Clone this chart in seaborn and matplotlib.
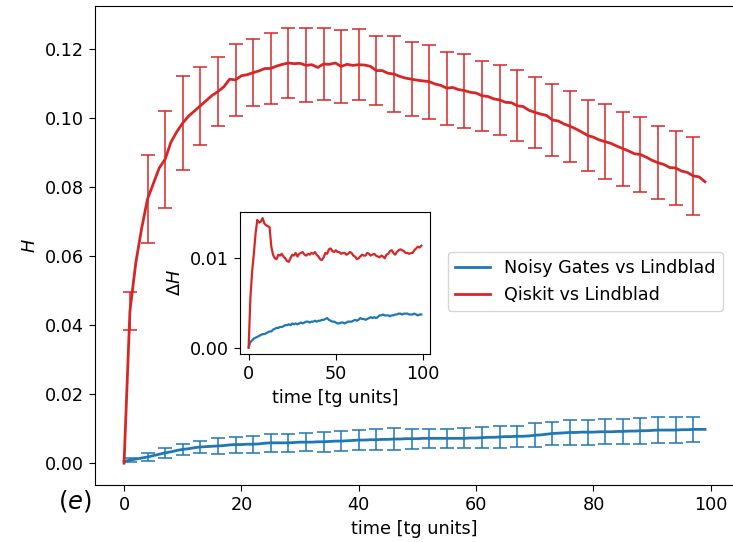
import numpy as np
import pandas as pd
import matplotlib
matplotlib.use("Agg")
import matplotlib.pyplot as plt
import seaborn as sns

# time axis [tg units]
time = np.arange(100)

# mean H for each comparison
h_noisy = [
    0.0005, 0.0009, 0.0012, 0.0015, 0.0018, 0.0022, 0.0026, 0.0030, 0.0033, 0.0037,
    0.0040, 0.0042, 0.0045, 0.0047, 0.0048, 0.0049, 0.0050, 0.0051, 0.0053, 0.0054,
    0.0054, 0.0055, 0.0055, 0.0056, 0.0058, 0.0059, 0.0059, 0.0059, 0.0059, 0.0060,
    0.0061, 0.0061, 0.0061, 0.0062, 0.0062, 0.0063, 0.0064, 0.0064, 0.0065, 0.0066,
    0.0067, 0.0067, 0.0068, 0.0068, 0.0069, 0.0069, 0.0070, 0.0070, 0.0071, 0.0071,
    0.0071, 0.0072, 0.0072, 0.0072, 0.0072, 0.0072, 0.0072, 0.0072, 0.0072, 0.0073,
    0.0073, 0.0074, 0.0075, 0.0075, 0.0076, 0.0077, 0.0077, 0.0078, 0.0078, 0.0079,
    0.0081, 0.0082, 0.0084, 0.0086, 0.0087, 0.0088, 0.0089, 0.0089, 0.0090, 0.0090,
    0.0090, 0.0091, 0.0091, 0.0091, 0.0092, 0.0092, 0.0093, 0.0093, 0.0094, 0.0094,
    0.0095, 0.0096, 0.0096, 0.0096, 0.0096, 0.0097, 0.0097, 0.0098, 0.0098, 0.0098,
]
h_qiskit = [
    0.0000, 0.0440, 0.0580, 0.0680, 0.0765, 0.0810, 0.0855, 0.0880, 0.0930, 0.0960,
    0.0985, 0.1005, 0.1020, 0.1035, 0.1050, 0.1065, 0.1076, 0.1090, 0.1112, 0.1110,
    0.1122, 0.1125, 0.1131, 0.1136, 0.1143, 0.1143, 0.1150, 0.1155, 0.1159, 0.1157,
    0.1158, 0.1152, 0.1154, 0.1146, 0.1156, 0.1155, 0.1159, 0.1149, 0.1155, 0.1152,
    0.1154, 0.1153, 0.1149, 0.1137, 0.1137, 0.1129, 0.1127, 0.1120, 0.1115, 0.1112,
    0.1109, 0.1107, 0.1105, 0.1098, 0.1094, 0.1086, 0.1088, 0.1082, 0.1079, 0.1074,
    0.1072, 0.1064, 0.1062, 0.1055, 0.1052, 0.1045, 0.1044, 0.1035, 0.1033, 0.1022,
    0.1016, 0.1011, 0.1007, 0.0994, 0.0991, 0.0982, 0.0976, 0.0968, 0.0959, 0.0949,
    0.0944, 0.0936, 0.0931, 0.0926, 0.0918, 0.0911, 0.0904, 0.0896, 0.0894, 0.0886,
    0.0877, 0.0870, 0.0865, 0.0856, 0.0855, 0.0846, 0.0842, 0.0832, 0.0829, 0.0815,
]

# spread Delta H (inset, also used as error bars)
dh_noisy = [
    0.0000, 0.0006, 0.0008, 0.0010, 0.0011, 0.0012, 0.0013, 0.0014, 0.0015, 0.0015,
    0.0016, 0.0017, 0.0018, 0.0018, 0.0020, 0.0021, 0.0022, 0.0022, 0.0023, 0.0023,
    0.0024, 0.0025, 0.0025, 0.0026, 0.0025, 0.0027, 0.0026, 0.0027, 0.0026, 0.0027,
    0.0028, 0.0027, 0.0028, 0.0029, 0.0029, 0.0028, 0.0029, 0.0029, 0.0030, 0.0029,
    0.0030, 0.0030, 0.0031, 0.0031, 0.0032, 0.0033, 0.0031, 0.0030, 0.0029, 0.0029,
    0.0028, 0.0027, 0.0027, 0.0028, 0.0028, 0.0027, 0.0028, 0.0029, 0.0029, 0.0029,
    0.0030, 0.0031, 0.0030, 0.0031, 0.0033, 0.0032, 0.0032, 0.0031, 0.0032, 0.0033,
    0.0034, 0.0033, 0.0034, 0.0033, 0.0034, 0.0036, 0.0036, 0.0037, 0.0036, 0.0036,
    0.0036, 0.0035, 0.0036, 0.0036, 0.0037, 0.0037, 0.0038, 0.0038, 0.0037, 0.0038,
    0.0038, 0.0038, 0.0037, 0.0037, 0.0037, 0.0038, 0.0037, 0.0036, 0.0037, 0.0037,
]
dh_qiskit = [
    0.0000, 0.0055, 0.0085, 0.0105, 0.0128, 0.0143, 0.0140, 0.0141, 0.0145, 0.0139,
    0.0137, 0.0136, 0.0135, 0.0113, 0.0104, 0.0100, 0.0099, 0.0104, 0.0103, 0.0105,
    0.0102, 0.0100, 0.0097, 0.0096, 0.0100, 0.0104, 0.0103, 0.0106, 0.0102, 0.0105,
    0.0106, 0.0107, 0.0104, 0.0103, 0.0105, 0.0104, 0.0106, 0.0105, 0.0107, 0.0104,
    0.0102, 0.0099, 0.0098, 0.0101, 0.0106, 0.0105, 0.0110, 0.0111, 0.0108, 0.0107,
    0.0109, 0.0107, 0.0107, 0.0105, 0.0106, 0.0106, 0.0104, 0.0105, 0.0107, 0.0106,
    0.0103, 0.0102, 0.0099, 0.0100, 0.0102, 0.0104, 0.0103, 0.0103, 0.0106, 0.0105,
    0.0103, 0.0104, 0.0105, 0.0103, 0.0102, 0.0101, 0.0103, 0.0102, 0.0100, 0.0104,
    0.0105, 0.0108, 0.0109, 0.0106, 0.0104, 0.0107, 0.0109, 0.0110, 0.0109, 0.0108,
    0.0106, 0.0106, 0.0105, 0.0106, 0.0106, 0.0109, 0.0111, 0.0113, 0.0112, 0.0114,
]

labels = ["Noisy Gates vs Lindblad", "Qiskit vs Lindblad"]
colors = ["tab:blue", "tab:red"]

df = pd.DataFrame({
    "time": np.concatenate([time, time]),
    "H": h_noisy + h_qiskit,
    "dH": dh_noisy + dh_qiskit,
    "method": [labels[0]] * len(time) + [labels[1]] * len(time),
})

plt.rcParams["font.size"] = 12.7
plt.rcParams["xtick.major.size"] = 4.5
plt.rcParams["ytick.major.size"] = 4.5

fig = plt.figure(figsize=(7.33, 5.42), dpi=100)
ax = fig.add_axes([0.1296, 0.1052, 0.8718, 0.8838])
# right edge of the frame falls just outside the canvas in the original
ax.spines["right"].set_visible(False)

# main curves with error bars every 3rd point
for lab, col in zip(labels, colors):
    d = df[df["method"] == lab]
    sns.lineplot(data=d, x="time", y="H", color=col, lw=2, label=lab, ax=ax)
    sub = d.iloc[1::3]
    ax.errorbar(sub["time"], sub["H"], yerr=sub["dH"], fmt="none",
                ecolor=col, elinewidth=1.1, capsize=5, capthick=1.1)

ax.set_xlabel("time [tg units]")
ax.set_ylabel("$H$")
ax.legend(loc="center right", bbox_to_anchor=(0.996, 0.425), fontsize=12.7)
ax.text(-0.031, -0.033, "$(e)$", transform=ax.transAxes, fontsize=17.5,
        ha="center", va="center")

# inset: Delta H
axin = fig.add_axes([0.3274, 0.3469, 0.2592, 0.2626])
for lab, col in zip(labels, colors):
    d = df[df["method"] == lab]
    sns.lineplot(data=d, x="time", y="dH", color=col, lw=1.6, ax=axin, legend=False)
axin.set_xticks([0, 50, 100])
axin.set_yticks([0.0, 0.01])
axin.set_yticklabels(["0.00", "0.01"])
axin.set_xlabel("time [tg units]")
axin.set_ylabel(r"$\Delta H$")

fig.savefig("out.png", dpi=100)
